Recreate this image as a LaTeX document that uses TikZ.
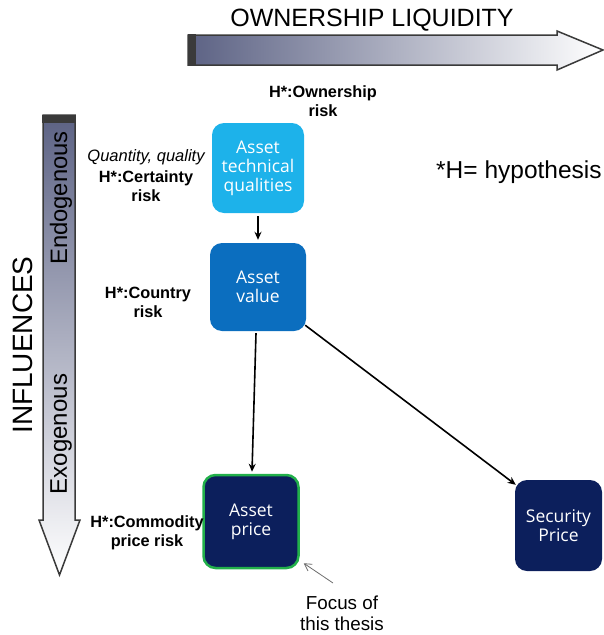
\documentclass[tikz,border=0pt]{standalone}
\usepackage{fontspec}
\setmainfont{Liberation Sans}
\newfontfamily\boxfont{Open Sans}
\usetikzlibrary{arrows.meta}
\definecolor{techc}{HTML}{1DB2EA}
\definecolor{valuec}{HTML}{0B6EBF}
\definecolor{navyc}{HTML}{0C1F5C}
\definecolor{greenc}{HTML}{22B04A}
\definecolor{gradc}{HTML}{5C6284}
\definecolor{edgec}{HTML}{3A3A3A}
\tikzset{
  box/.style={rounded corners=12pt, minimum width=#1, align=center, text=white,
    font=\boxfont\fontsize{17.5}{19}\selectfont, inner sep=0pt},
  lab/.style={align=center, font=\bfseries\fontsize{16.3}{19}\selectfont, inner sep=0pt},
  conn/.style={line width=1.6pt, -{Stealth[length=8pt,width=7pt]}},
  thin/.style={line width=0.8pt, draw=gray!85!black, -{Straight Barb[length=7pt,width=8pt]}},
}
\begin{document}
\begin{tikzpicture}[x=1pt,y=-1pt]
\useasboundingbox (0,0) rectangle (603,635);
% top arrow
\path[draw=edgec, line width=1.5pt, left color=gradc, right color=white]
  (188,35) -- (557,35) -- (557,31) -- (603,50) -- (557,70) -- (557,65) -- (188,65) -- cycle;
\fill[edgec] (188,34.3) rectangle (196,65.7);
\node[font=\fontsize{25}{28}\selectfont, inner sep=0pt] (title) at (372,20) {OWNERSHIP LIQUIDITY};
% vertical arrow
\path[draw=edgec, line width=1.5pt, top color=gradc, bottom color=white]
  (43,115) -- (75,115) -- (75,520) -- (80,520) -- (59.5,575) -- (39,520) -- (43,520) -- cycle;
\fill[edgec] (42.3,115) rectangle (75.7,123);
\node[rotate=90, font=\fontsize{23.8}{26}\selectfont, inner sep=0pt] (endo) at (61,198) {Endogenous};
\node[rotate=90, font=\fontsize{24}{26}\selectfont, inner sep=0pt] (exo) at (61,434) {Exogenous};
\node[rotate=90, font=\fontsize{28}{30}\selectfont, inner sep=0pt] (infl) at (23,345) {INFLUENCES};
% boxes
\node[box=92pt, minimum height=90pt, fill=techc] (tech) at (258,168) {Asset\\technical\\qualities};
\node[box=96pt, minimum height=88pt, fill=valuec] (value) at (258,287) {Asset\\value};
\node[box=95pt, minimum height=93pt, fill=navyc, draw=greenc, line width=2.5pt] (price) at (251,521.5) {Asset\\price};
\node[box=87pt, minimum height=91pt, fill=navyc] (security) at (558.5,525.5) {Security\\Price};
% labels
\node[lab] (own) at (323,101) {H*:Ownership\\risk};
\node[font=\itshape\fontsize{16.5}{18}\selectfont, inner sep=0pt] (qq) at (146,157) {Quantity, quality};
\node[lab] (cert) at (146,186.5) {H*:Certainty\\risk};
\node[lab] (country) at (148,302.5) {H*:Country\\risk};
\node[lab] (comm) at (147,532.5) {H*:Commodity\\price risk};
\node[anchor=west, font=\fontsize{24.5}{27}\selectfont, inner sep=0pt] (hyp) at (436,172) {*H= hypothesis};
\node[align=center, font=\fontsize{18.8}{21}\selectfont, inner sep=0pt] (focus) at (342,613) {Focus of\\this thesis};
% connectors
\draw[conn] ([yshift=-3pt]tech.south) -- ([yshift=3pt]value.north);
\draw[conn] ([xshift=-2pt,yshift=-2pt]value.south) -- ([xshift=1pt,yshift=2pt]price.north);
\draw[conn] ([shift={(-1pt,6pt)}]value.south east) -- ([shift={(1pt,-5pt)}]security.north west);
\coordinate (fstart) at (333,583);
\draw[thin] (fstart) -- ([shift={(4pt,6pt)}]price.south east);
\end{tikzpicture}
\end{document}
